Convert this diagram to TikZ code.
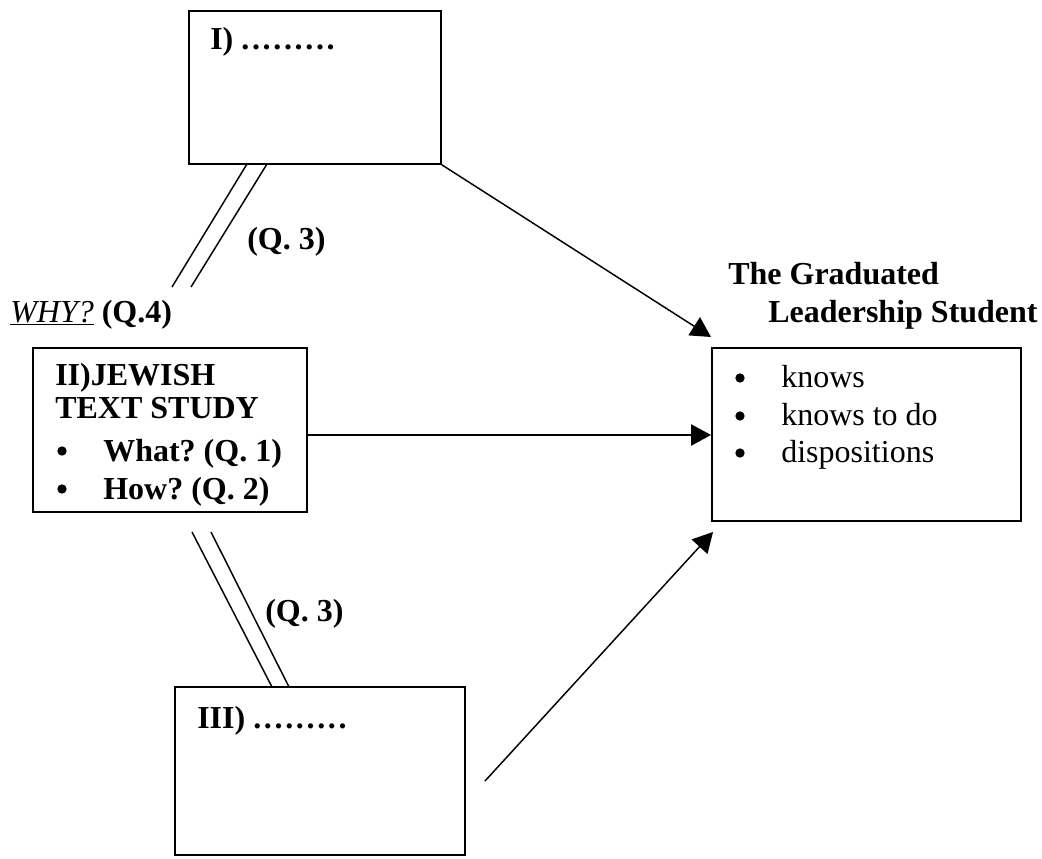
\documentclass[tikz,border=0pt]{standalone}
\usepackage{fontspec}
\setmainfont{Liberation Serif}
\usetikzlibrary{arrows.meta,fit}
\frenchspacing

% a row of widely spaced dots used as a placeholder
\newcommand\dotrow{.\kern2pt.\kern2pt.\kern2pt.\kern2pt.\kern2pt.\kern2pt.\kern2pt.\kern2pt.}

\tikzset{
  box/.style={draw, line width=1.2pt, inner sep=0pt},
  lbl/.style={anchor=base west, inner sep=0pt, font=\bfseries\fontsize{24}{28}\selectfont},
  txt/.style={anchor=base west, inner sep=0pt, font=\fontsize{24}{28}\selectfont},
  bul/.style={circle, fill, inner sep=0pt, minimum size=7pt},
  link/.style={line width=1.1pt},
  arr/.style={line width=1.1pt, -{Triangle[length=15pt,width=16pt]}}
}

\begin{document}
\begin{tikzpicture}[x=0.75pt, y=-0.75pt]
\useasboundingbox (0,0) rectangle (1042,859);

% the four boxes
\node[box, fit={(189,11) (441,164)}]  (boxI)   {};
\node[box, fit={(33,348) (307,512)}]  (boxII)  {};
\node[box, fit={(175,687) (465,855)}] (boxIII) {};
\node[box, fit={(712,348) (1021,521)}] (goal)  {};

% box I
\node[lbl] (tI) at (210,50) {I) \dotrow};

% box II
\node[lbl] (tIIa) at (55,385) {II)JEWISH};
\node[lbl] (tIIb) at (55,418) {TEXT STUDY};
\node[bul] (bIIa) at (62,451) {};
\node[lbl] (tIIc) at (103,461) {What? (Q. 1)};
\node[bul] (bIIb) at (62,489) {};
\node[lbl] (tIId) at (103,499) {How? (Q. 2)};

% box III
\node[lbl] (tIII) at (197,728) {III) \dotrow};

% outcome box
\node[lbl] (gt1) at (728,285) {The Graduated};
\node[lbl] (gt2) at (768,322) {Leadership Student};
\node[bul] (gb1) at (740,378) {};
\node[txt] (gk1) at (781,387) {knows};
\node[bul] (gb2) at (740,416) {};
\node[txt] (gk2) at (781,425) {knows to do};
\node[bul] (gb3) at (740,453) {};
\node[txt] (gk3) at (781,462) {dispositions};

% question labels
\node[txt] (why) at (10,322) {\underline{\textit{WHY?}} \textbf{(Q.4)}};
\node[lbl] (q3a) at (247,250) {(Q. 3)};
\node[lbl] (q3b) at (265,621) {(Q. 3)};

% double links between the boxes on the left
\coordinate (ua1) at (247,164);
\coordinate (ua2) at (267,164);
\coordinate (ub1) at (172,287);
\coordinate (ub2) at (191,287);
\draw[link] (ua1) -- (ub1);
\draw[link] (ua2) -- (ub2);

\coordinate (ls1) at (192,532);
\coordinate (ls2) at (211,532);
\coordinate (lb1) at (272,687);
\coordinate (lb2) at (289,687);
\draw[link] (ls1) -- (lb1);
\draw[link] (ls2) -- (lb2);

% arrows into the outcome box
\coordinate (tipTop) at (711,337);
\coordinate (tipMid) at (711,435);
\coordinate (tipLow) at (713,532);
\coordinate (startLow) at (485,781);
\draw[arr] (boxI.south east) -- (tipTop);
\draw[arr] (boxII.east |- tipMid) -- (tipMid);
\draw[arr] (startLow) -- (tipLow);
\end{tikzpicture}
\end{document}
